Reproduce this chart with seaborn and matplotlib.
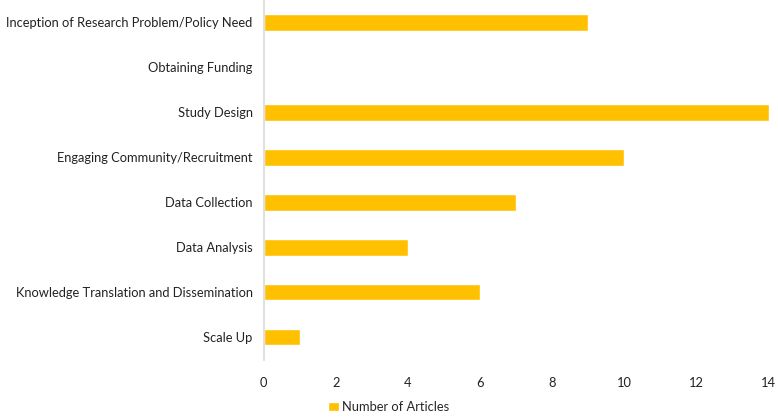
import pandas as pd
import seaborn as sns
import matplotlib.pyplot as plt

# Dados do gráfico
stages = [
    "Inception of Research Problem/Policy Need",
    "Obtaining Funding",
    "Study Design",
    "Engaging Community/Recruitment",
    "Data Collection",
    "Data Analysis",
    "Knowledge Translation and Dissemination",
    "Scale Up",
]
articles = [9, 0, 14, 10, 7, 4, 6, 1]

df = pd.DataFrame({"Stage": stages, "Number of Articles": articles})

sns.set_style("white")
plt.rcParams["font.family"] = ["Lato", "DejaVu Sans"]

fig = plt.figure(figsize=(7.78, 4.17), dpi=100)
ax = fig.add_axes([0.339, 0.137, 0.649, 0.863])

sns.barplot(data=df, y="Stage", x="Number of Articles", color="#FFC000",
            width=0.36, saturation=1, orient="h", ax=ax,
            label="Number of Articles")

ax.set_xlim(0, 14)
ax.set_xticks(range(0, 15, 2))
ax.set_xlabel("")
ax.set_ylabel("")
ax.tick_params(axis="both", length=0, labelsize=9.3, colors="#222222")
ax.tick_params(axis="x", pad=12)
ax.tick_params(axis="y", pad=8)

for s in ["top", "right", "bottom"]:
    ax.spines[s].set_visible(False)
ax.spines["left"].set_color("#D9D9D9")
ax.spines["left"].set_linewidth(1.2)

# legenda centrada na figura
handles, labels = ax.get_legend_handles_labels()
if ax.get_legend() is not None:
    ax.get_legend().remove()
fig.legend(handles, labels, loc="center", bbox_to_anchor=(0.5, 0.024),
           frameon=False, fontsize=9.3, handlelength=0.8, handleheight=0.8,
           handletextpad=0.3)

fig.savefig("out.png", dpi=100)
